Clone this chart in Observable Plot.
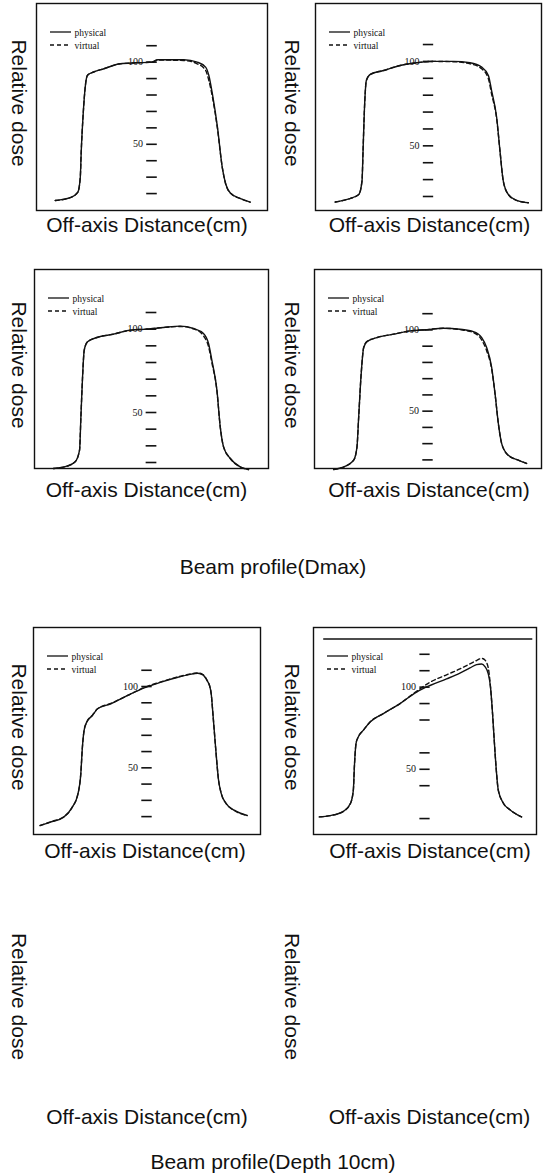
<!DOCTYPE html>
<html>
<head>
<meta charset="utf-8">
<script src="https://cdn.jsdelivr.net/npm/d3@7"></script>
<script src="https://cdn.jsdelivr.net/npm/@observablehq/plot@0.6"></script>
<style>
  html, body { margin: 0; padding: 0; background: #fff; }
  #page { position: relative; width: 546px; height: 1175px; background: #fff; overflow: hidden; }
  .cell { position: absolute; }
  .title { position: absolute; left: 0; width: 546px; text-align: center; font-family: "Liberation Sans", Arial, sans-serif; font-size: 21px; line-height: 24px; color: #111; }
</style>
</head>
<body>
<div id="page"></div>
<script>
// ---------- data ----------
// Beam profile (Dmax), panel A (top-left)
const dmaxAX = [-10.05, -8.5, -7.7, -7.45, -7.35, -7.17, -6.9, -6.7, -6.06, -5.0, -3.3, -1.6, 0, 0.6, 3.3, 4.7, 5.57, 5.9, 6.27, 6.8, 7.3, 7.65, 8.2, 9.2, 10.2];
const dmaxAPhysical = [15.8, 17.5, 20.9, 30, 46, 66.5, 86.8, 92, 94, 96, 99, 99.6, 100, 101.5, 101.5, 100, 97, 92, 80.8, 60.4, 36, 26, 20, 16.9, 14.8];
const dmaxAVirtual  = [15.8, 17.5, 20.9, 30, 46, 66.5, 86.8, 92, 94, 96, 99, 99.6, 100, 101.3, 101, 99, 95, 89, 79, 59.5, 36, 26, 20, 16.9, 14.8];

// panel B (top-right)
const dmaxBX = [-9.9, -8.65, -7.4, -7.06, -6.95, -6.81, -6.6, -6.18, -4.77, -3.0, -1.24, 0.53, 2.65, 4.41, 5.65, 6.36, 6.7, 7.24, 7.59, 7.94, 8.47, 9.36, 10.6];
const dmaxBPhysical = [16.7, 18.3, 21.2, 29.2, 47, 70.8, 88.7, 92.3, 94.6, 97.6, 99.2, 100, 100, 99.2, 96.6, 91.7, 82.7, 66.8, 47, 29.2, 21.2, 17.7, 16.3];
const dmaxBVirtual  = [16.7, 18.3, 21.2, 29.2, 47, 70.8, 88.7, 92.3, 94.6, 97.6, 99.2, 100, 99.8, 98.6, 95.6, 89.7, 80.7, 66, 47, 29.2, 21.2, 17.7, 16.3];

// panel C (second row, left)
const dmaxCX = [-10.05, -8.68, -7.83, -7.38, -7.24, -7.07, -6.9, -6.56, -5.6, -3.9, -2.18, -0.47, 1.23, 2.94, 4.31, 5.33, 5.85, 6.19, 6.71, 7.05, 7.39, 8.08, 9.1, 9.95];
const dmaxCPhysical = [16.4, 17.8, 20.4, 27.4, 47.4, 71.4, 87.4, 92.4, 95, 97, 99.4, 100, 101, 101.8, 100.4, 97.4, 91.4, 81.4, 63.4, 41.4, 29.4, 22.4, 17.4, 15.8];
const dmaxCVirtual  = [16.4, 17.8, 20.4, 27.4, 47.4, 71.4, 87.4, 92.4, 95, 97, 99.4, 100, 101, 101.6, 100.2, 96, 89.5, 80, 63, 41.4, 29.4, 22.4, 17.4, 15.8];

// panel D (second row, right)
const dmaxDX = [-9.97, -8.73, -7.86, -7.51, -7.33, -7.09, -6.8, -6.46, -5.4, -3.64, -1.88, -0.13, 1.63, 3.4, 4.8, 5.68, 6.2, 6.73, 7.09, 7.44, 7.79, 8.49, 9.55, 10.42];
const dmaxDPhysical = [14.1, 16.1, 19.8, 27.9, 46.3, 70.8, 89.2, 92.8, 95.3, 97.4, 99.4, 100.2, 101, 100.4, 99, 95.3, 89.2, 76.9, 60.6, 42.3, 30, 22.8, 19.8, 17.8];
const dmaxDVirtual  = [14.1, 16.1, 19.8, 27.9, 46.3, 70.8, 89.2, 92.8, 95.3, 97.4, 99.4, 100.2, 101, 100.2, 98.4, 93.8, 87.2, 76, 60.6, 42.3, 30, 22.8, 19.8, 17.8];

// Beam profile (Depth 10cm), panel A
const depthAX = [-11.3, -10.2, -8.8, -7.9, -7.3, -7.0, -6.83, -6.65, -6.37, -5.77, -5.23, -3.82, -2.05, -0.29, 1.49, 3.26, 4.32, 5.38, 5.91, 6.37, 6.61, 6.79, 6.97, 7.25, 7.57, 7.86, 8.39, 9.27, 10.6];
const depthAPhysical = [14.6, 16.6, 19.7, 25.8, 34, 46.3, 62.7, 73, 78.1, 82.2, 86.3, 89.4, 94.5, 99.2, 102.7, 105.7, 107.2, 108.2, 107.2, 103.5, 100.6, 95.5, 83.2, 62.7, 42.2, 34, 27.9, 23.8, 20.7];
const depthAVirtual  = [14.4, 16.8, 19.9, 25.8, 34, 46.3, 62.7, 73, 78.1, 82.4, 86.3, 89.6, 94.5, 99.4, 102.9, 105.9, 107.4, 108.3, 107.4, 103.7, 100.6, 95.5, 83.2, 62.7, 42.2, 34, 27.9, 23.6, 20.7];

// Beam profile (Depth 10cm), panel B
const depthBX = [-11.37, -10.2, -8.78, -8.0, -7.71, -7.6, -7.42, -7.17, -6.63, -5.91, -4.48, -2.69, -0.9, 0.54, 2.32, 3.76, 4.84, 5.55, 6.09, 6.45, 6.81, 7.05, 7.27, 7.45, 7.7, 7.88, 8.42, 9.14, 10.39];
const depthBPhysical = [21.0, 21.8, 24.4, 29.5, 37.5, 51.6, 65.8, 69.8, 73.8, 78.8, 83.9, 90, 97, 101, 105, 108.5, 111.7, 113.7, 114.1, 112.5, 108.1, 100, 83.9, 67.8, 47.6, 37.5, 29.5, 25.4, 21.0];
const depthBVirtual  = [21.0, 21.8, 24.4, 29.5, 37.5, 51.6, 65.8, 69.8, 73.8, 78.8, 83.9, 90, 97.5, 103, 107.5, 111.1, 114.2, 116.2, 117.5, 116.5, 111.7, 100, 83.9, 67.8, 47.6, 37.5, 29.5, 25.4, 21.0];
// horizontal line near the top of panel B (Depth 10cm)
const depthBTopLine = [{y: 129.3, x1: -10.9, x2: 11.6}];

// y tick marks and labels
const ticksFull = [20, 30, 40, 50, 60, 70, 80, 90, 100, 110];
const ticksDepthB = [20, 40, 50, 60, 80, 90, 100, 110, 120];
const tickLabels = [50, 100];

// y domains of each panel (frame bottom/top)
const yDomainDmaxA = [9.7, 135.7];
const yDomainDmaxB = [11.7, 134.3];
const yDomainDmaxC = [16.4, 135.8];
const yDomainDmaxD = [14.7, 137.2];
const yDomainDepthA = [9, 136.3];
const yDomainDepthB = [10.3, 136.3];
const xDomain = [-12, 12];

// texts
const yLabel = "Relative dose";
const xLabel = "Off-axis Distance(cm)";
const seriesNames = ["physical", "virtual"];
const titles = ["Beam profile(Dmax)", "Beam profile(Depth 10cm)"];

// ---------- drawing ----------
const INK = "#111";
const SANS = "'Liberation Sans', Arial, sans-serif";
const SERIF = "'Liberation Serif', 'Times New Roman', serif";

function legendLines(index, scales, values, dims) {
  const g = d3.create("svg:g");
  const x0 = dims.marginLeft + 14, x1 = dims.marginLeft + 35;
  g.append("line").attr("x1", x0).attr("x2", x1)
    .attr("y1", dims.marginTop + 29).attr("y2", dims.marginTop + 29)
    .attr("stroke", INK).attr("stroke-width", 1.3);
  g.append("line").attr("x1", x0).attr("x2", x1)
    .attr("y1", dims.marginTop + 42).attr("y2", dims.marginTop + 42)
    .attr("stroke", INK).attr("stroke-width", 1.3).attr("stroke-dasharray", "4,3");
  return g.node();
}

function labelMarks(xLabelDy, xLabelDx, yLabelDx) {
  return [
    Plot.text([yLabel], {text: d => d, frameAnchor: "left", dx: yLabelDx, dy: -4, rotate: 90,
      textAnchor: "middle", lineAnchor: "middle", fontSize: 21, fontFamily: SANS, fill: INK}),
    Plot.text([xLabel], {text: d => d, frameAnchor: "bottom", dx: xLabelDx, dy: xLabelDy,
      textAnchor: "middle", lineAnchor: "middle", fontSize: 21, fontFamily: SANS, fill: INK})
  ];
}

function panel(cfg) {
  const rows = cfg.xs.map((x, i) => ({x, physical: cfg.phys[i], virtual: cfg.virt[i]}));
  const marks = [
    Plot.frame({stroke: INK, strokeWidth: 1.4}),
    Plot.ruleY(cfg.ticks, {y: d => d, x1: -0.55, x2: 0.55, stroke: INK, strokeWidth: 1.6}),
    Plot.text(tickLabels, {x: 0, y: d => d, text: d => String(d), dx: -9, textAnchor: "end",
      lineAnchor: "middle", fontSize: 10, fontFamily: SERIF, fill: INK}),
    Plot.line(rows, {x: "x", y: "physical", stroke: INK, strokeWidth: 1.4, curve: "monotone-x"}),
    Plot.line(rows, {x: "x", y: "virtual", stroke: INK, strokeWidth: 1.4, strokeDasharray: "4,3", curve: "monotone-x"}),
    legendLines,
    Plot.text([seriesNames[0]], {text: d => d, frameAnchor: "top-left", dx: 38, dy: 29,
      textAnchor: "start", lineAnchor: "middle", fontSize: 9.5, fontFamily: SERIF, fill: INK}),
    Plot.text([seriesNames[1]], {text: d => d, frameAnchor: "top-left", dx: 38, dy: 42,
      textAnchor: "start", lineAnchor: "middle", fontSize: 9.5, fontFamily: SERIF, fill: INK}),
    ...labelMarks(cfg.xLabelDy, cfg.xLabelDx, 18 - cfg.ml)
  ];
  if (cfg.extra) marks.push(cfg.extra);
  return Plot.plot({
    width: 273, height: cfg.h,
    marginLeft: cfg.ml, marginRight: cfg.mr, marginTop: cfg.mt, marginBottom: cfg.mb,
    x: {domain: xDomain, axis: null},
    y: {domain: cfg.yDomain, axis: null},
    style: {background: "transparent", overflow: "visible"},
    marks
  });
}

function emptyPanel(cfg) {
  return Plot.plot({
    width: 273, height: cfg.h,
    marginLeft: cfg.ml, marginRight: cfg.mr, marginTop: cfg.mt, marginBottom: cfg.mb,
    style: {background: "transparent", overflow: "visible"},
    marks: labelMarks(cfg.xLabelDy, cfg.xLabelDx, 18 - cfg.ml)
  });
}

const page = document.getElementById("page");
function place(node, left, top) {
  const d = document.createElement("div");
  d.className = "cell";
  d.style.left = left + "px";
  d.style.top = top + "px";
  d.appendChild(node);
  page.appendChild(d);
}

// Row 1
place(panel({xs: dmaxAX, phys: dmaxAPhysical, virt: dmaxAVirtual, yDomain: yDomainDmaxA, ticks: ticksFull,
  h: 245, ml: 36, mr: 6, mt: 3, mb: 35, xLabelDy: 15, xLabelDx: -5}), 0, 0);
place(panel({xs: dmaxBX, phys: dmaxBPhysical, virt: dmaxBVirtual, yDomain: yDomainDmaxB, ticks: ticksFull,
  h: 245, ml: 42, mr: 5, mt: 3, mb: 35, xLabelDy: 15, xLabelDx: 1}), 273, 0);
// Row 2
place(panel({xs: dmaxCX, phys: dmaxCPhysical, virt: dmaxCVirtual, yDomain: yDomainDmaxC, ticks: ticksFull,
  h: 260, ml: 34, mr: 5, mt: 19, mb: 42, xLabelDy: 22, xLabelDx: -5}), 0, 250);
place(panel({xs: dmaxDX, phys: dmaxDPhysical, virt: dmaxDVirtual, yDomain: yDomainDmaxD, ticks: ticksFull,
  h: 260, ml: 41, mr: 5, mt: 19, mb: 42, xLabelDy: 22, xLabelDx: 1}), 273, 250);
// Row 3
place(panel({xs: depthAX, phys: depthAPhysical, virt: depthAVirtual, yDomain: yDomainDepthA, ticks: ticksFull,
  h: 270, ml: 33, mr: 13, mt: 27, mb: 36, xLabelDy: 17, xLabelDx: -2}), 0, 600);
place(panel({xs: depthBX, phys: depthBPhysical, virt: depthBVirtual, yDomain: yDomainDepthB, ticks: ticksDepthB,
  h: 270, ml: 40, mr: 10, mt: 27, mb: 36, xLabelDy: 17, xLabelDx: 5,
  extra: Plot.ruleY(depthBTopLine, {y: "y", x1: "x1", x2: "x2", stroke: INK, strokeWidth: 1.6})}), 273, 600);
// Row 4 (empty panels)
place(emptyPanel({h: 260, ml: 36, mr: 6, mt: 15, mb: 25, xLabelDy: 7, xLabelDx: -5}), 0, 875);
place(emptyPanel({h: 260, ml: 42, mr: 5, mt: 15, mb: 25, xLabelDy: 7, xLabelDx: 1}), 273, 875);

// Section titles
function title(text, top) {
  const d = document.createElement("div");
  d.className = "title";
  d.style.top = top + "px";
  d.textContent = text;
  page.appendChild(d);
}
title(titles[0], 555);
title(titles[1], 1150);
</script>
</body>
</html>
